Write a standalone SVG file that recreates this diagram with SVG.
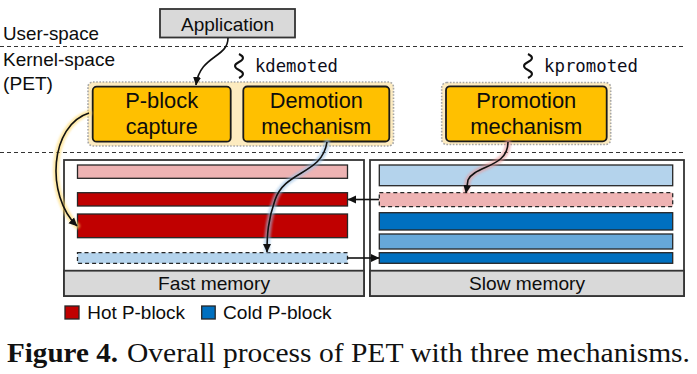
<svg xmlns="http://www.w3.org/2000/svg" width="697" height="374" viewBox="0 0 697 374">
<defs>
<style>
.t{font-family:"Liberation Sans",Arial,sans-serif;fill:#0d0d0d;}
.mono{font-family:"DejaVu Sans Mono","Liberation Mono",monospace;font-size:17px;fill:#0d0d1a;}
.box{fill:#ffc000;stroke:#1a1a1a;stroke-width:1.8;}
.grp{fill:#fdebc0;stroke:#a6a6a6;stroke-width:1.6;stroke-dasharray:1.6 1.6;}
.sep{stroke:#333;stroke-width:1;stroke-dasharray:4 3;fill:none;}
.mem{fill:#fff;stroke:#333;stroke-width:1.8;}
.lbl{fill:#d9d9d9;stroke:#333;stroke-width:1.8;}
.bar{stroke:#262626;stroke-width:1.3;}
.dash{stroke-dasharray:4 3;}
.pink{fill:#eeb3b3;}
.red{fill:#c00000;}
.lb{fill:#b4d3ec;}
.mb{fill:#66a8d9;}
.db{fill:#0070c0;}
.line{fill:none;stroke:#111;stroke-width:1.6;}
.glow{fill:none;stroke-width:6;stroke-linecap:round;opacity:0.6;}
</style>
<marker id="ah" markerUnits="userSpaceOnUse" markerWidth="9" markerHeight="9" refX="8" refY="4.5" orient="auto" viewBox="0 0 9 9">
<path d="M0,0.5 L8.5,4.5 L0,8.5 z" fill="#111"/>
</marker>
<filter id="blur" x="-20%" y="-20%" width="140%" height="140%"><feGaussianBlur stdDeviation="1.2"/></filter>
</defs>
<rect width="697" height="374" fill="#fff"/>

<g id="separators">
<line class="sep" x1="0" y1="46.5" x2="684" y2="46.5"/>
<line class="sep" x1="0" y1="152.5" x2="684" y2="152.5"/>
</g>

<g id="space-labels">
<text class="t" x="3" y="40" font-size="19" textLength="96" lengthAdjust="spacingAndGlyphs">User-space</text>
<text class="t" x="3" y="66" font-size="19" textLength="112" lengthAdjust="spacingAndGlyphs">Kernel-space</text>
<text class="t" x="3" y="90" font-size="19" textLength="50" lengthAdjust="spacingAndGlyphs">(PET)</text>
</g>

<g id="application">
<rect x="160" y="9" width="135" height="28.5" fill="#d9d9d9" stroke="#333" stroke-width="1.8"/>
<text class="t" x="227.5" y="30.5" font-size="19" text-anchor="middle" textLength="93" lengthAdjust="spacingAndGlyphs">Application</text>
</g>

<g id="kdemoted">
<path d="M239 54 q8 4 0 8 q-8 4 0 8 q8 4 0 8" fill="none" stroke="#111" stroke-width="2"/>
<text class="mono" x="255" y="72" textLength="83" lengthAdjust="spacingAndGlyphs">kdemoted</text>
</g>

<g id="kpromoted">
<path d="M528 54 q8 4 0 8 q-8 4 0 8 q8 4 0 8" fill="none" stroke="#111" stroke-width="2"/>
<text class="mono" x="544" y="72" textLength="94" lengthAdjust="spacingAndGlyphs">kpromoted</text>
</g>

<g id="group-capture-demotion">
<rect class="grp" x="88" y="82" width="305.5" height="64" rx="5"/>
</g>

<g id="pblock-capture">
<rect class="box" x="92.7" y="86.7" width="138" height="55" rx="4"/>
<text class="t" x="161.7" y="108" font-size="21.5" text-anchor="middle" textLength="73" lengthAdjust="spacingAndGlyphs">P-block</text>
<text class="t" x="161.7" y="134" font-size="21.5" text-anchor="middle" textLength="72" lengthAdjust="spacingAndGlyphs">capture</text>
</g>

<g id="demotion-mechanism">
<rect class="box" x="243.3" y="86.5" width="146" height="55" rx="4"/>
<text class="t" x="316.3" y="107.5" font-size="21.5" text-anchor="middle" textLength="93" lengthAdjust="spacingAndGlyphs">Demotion</text>
<text class="t" x="316.3" y="134" font-size="21.5" text-anchor="middle" textLength="110" lengthAdjust="spacingAndGlyphs">mechanism</text>
</g>

<g id="promotion-mechanism">
<rect class="grp" x="441.7" y="82.5" width="169" height="62" rx="5"/>
<rect class="box" x="446" y="86.3" width="160.7" height="55" rx="4"/>
<text class="t" x="526.3" y="108" font-size="21.5" text-anchor="middle" textLength="100" lengthAdjust="spacingAndGlyphs">Promotion</text>
<text class="t" x="526.3" y="134" font-size="21.5" text-anchor="middle" textLength="112" lengthAdjust="spacingAndGlyphs">mechanism</text>
</g>

<g id="fast-memory">
<rect class="mem" x="64" y="160" width="300" height="136"/>
<rect class="lbl" x="64" y="270.7" width="300" height="25.3"/>
<text class="t" x="214" y="290" font-size="19" text-anchor="middle" textLength="112" lengthAdjust="spacingAndGlyphs">Fast memory</text>
<rect class="bar pink" x="77.5" y="165" width="270" height="13.3"/>
<rect class="bar red" x="77.5" y="192.7" width="270" height="13.3"/>
<rect class="bar red" x="77.5" y="214" width="270" height="23.7"/>
<rect class="bar lb dash" x="77.5" y="252.7" width="270" height="10.6"/>
</g>

<g id="slow-memory">
<rect class="mem" x="370" y="160" width="314" height="136"/>
<rect class="lbl" x="370" y="270.7" width="314" height="25.3"/>
<text class="t" x="527" y="290" font-size="19" text-anchor="middle" textLength="116" lengthAdjust="spacingAndGlyphs">Slow memory</text>
<rect class="bar lb" x="379.3" y="165" width="293.4" height="20.7"/>
<rect class="bar pink dash" x="379.3" y="192.7" width="293.4" height="14"/>
<rect class="bar db" x="379.3" y="212.7" width="293.4" height="17.3"/>
<rect class="bar mb" x="379.3" y="234" width="293.4" height="15"/>
<rect class="bar db" x="379.3" y="252.7" width="293.4" height="10.6"/>
</g>

<g id="connectors">
<path class="glow" filter="url(#blur)" stroke="#ffd966" d="M89 113 C50 125, 45 195, 77 226"/>
<path class="glow" filter="url(#blur)" stroke="#9dc3e6" d="M327 142 C322 175, 285 170, 275 200 C268 220, 267 235, 267 250"/>
<path class="glow" filter="url(#blur)" stroke="#e89a9a" d="M508 142 C508 168, 475 165, 468 180 L466 191"/>
<path class="glow" filter="url(#blur)" stroke="#e89a9a" d="M379 199.5 L350 199.5"/>
<path class="glow" filter="url(#blur)" stroke="#9dc3e6" d="M347.5 258 L376 258"/>
<path class="line" marker-end="url(#ah)" d="M228 38 C228 58, 200 55, 196 85"/>
<path class="line" marker-end="url(#ah)" d="M89 113 C50 125, 45 195, 77 226"/>
<path class="line" marker-end="url(#ah)" d="M327 142 C322 175, 285 170, 275 200 C268 220, 267 235, 267 252"/>
<path class="line" marker-end="url(#ah)" d="M508 142 C508 168, 475 165, 468 180 L466 193"/>
<path class="line" marker-end="url(#ah)" d="M379 199.5 L348 199.5"/>
<path class="line" marker-end="url(#ah)" d="M347.5 258 L379 258"/>
</g>

<g id="legend">
<rect class="bar red" x="65" y="306" width="14" height="13"/>
<text class="t" x="87.3" y="318.5" font-size="19" textLength="97.7" lengthAdjust="spacingAndGlyphs">Hot P-block</text>
<rect class="bar db" x="201.7" y="306" width="13.5" height="13"/>
<text class="t" x="223" y="318.5" font-size="19" textLength="108.7" lengthAdjust="spacingAndGlyphs">Cold P-block</text>
</g>

<g id="caption">
<text x="7" y="362" font-family="'Liberation Serif','Times New Roman',serif" font-size="27.5" font-weight="bold" fill="#111" textLength="111" lengthAdjust="spacingAndGlyphs">Figure 4.</text>
<text x="127" y="362" font-family="'Liberation Serif','Times New Roman',serif" font-size="27.5" fill="#111" textLength="563" lengthAdjust="spacingAndGlyphs">Overall process of PET with three mechanisms.</text>
</g>
</svg>
